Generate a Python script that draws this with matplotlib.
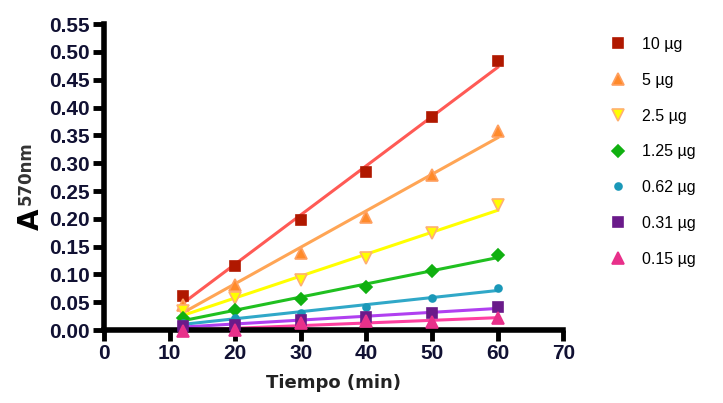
import numpy as np
import matplotlib
matplotlib.use("Agg")
import matplotlib.pyplot as plt

plt.rcParams["font.family"] = ["Liberation Sans", "DejaVu Sans"]

# time points (min)
tiempo = [12, 20, 30, 40, 50, 60]

labels = ["10 µg", "5 µg", "2.5 µg", "1.25 µg", "0.62 µg", "0.31 µg", "0.15 µg"]
a10 = [0.062, 0.115, 0.198, 0.284, 0.383, 0.484]
a5 = [0.045, 0.081, 0.138, 0.203, 0.279, 0.358]
a25 = [0.035, 0.057, 0.090, 0.129, 0.174, 0.224]
a125 = [0.021, 0.036, 0.056, 0.078, 0.106, 0.135]
a062 = [0.012, 0.022, 0.031, 0.042, 0.057, 0.075]
a031 = [0.008, 0.009, 0.018, 0.023, 0.031, 0.041]
a015 = [-0.002, 0.000, 0.013, 0.016, 0.015, 0.021]
series = [a10, a5, a25, a125, a062, a031, a015]

# (marker, marker face, marker edge, line colour, size)
styles = [
    ("s", "#b01800", "#b01800", "#ff5a55", 7),
    ("^", "#ff8a2a", "#ffa060", "#ffa555", 8),
    ("v", "#ffff00", "#ffb070", "#ffff00", 8),
    ("D", "#10b010", "#10b010", "#20c020", 6),
    ("o", "#1a98b8", "#1a98b8", "#30a8c8", 5),
    ("s", "#6a1a8a", "#6a1a8a", "#b040f0", 7),
    ("^", "#e8308a", "#e8308a", "#ff40a0", 8),
]

fig = plt.figure(figsize=(7.23, 4.03), dpi=100)
ax = fig.add_axes([0.144, 0.181, 0.635, 0.759])

x = np.array(tiempo)
for y, lab, (m, fc, ec, lc, ms) in zip(series, labels, styles):
    k, b = np.polyfit(x, y, 1)
    xf = np.array([x.min(), x.max()])
    ax.plot(xf, k * xf + b, color=lc, linewidth=2.2, zorder=2)
    ax.plot(x, y, linestyle="none", marker=m, markersize=ms,
            markerfacecolor=fc, markeredgecolor=ec, markeredgewidth=1.2,
            label=lab, zorder=3, clip_on=False)

ax.set_xlim(0, 70)
ax.set_ylim(0, 0.55)
ax.set_xticks(np.arange(0, 71, 10))
ax.set_yticks(np.arange(0, 0.551, 0.05))
ax.set_yticklabels([f"{v:.2f}" for v in np.arange(0, 0.551, 0.05)])

for s in ["top", "right"]:
    ax.spines[s].set_visible(False)
for s in ["left", "bottom"]:
    ax.spines[s].set_linewidth(4)
ax.tick_params(direction="out", length=8, width=3.5, labelsize=15, pad=2)
for t in ax.get_xticklabels() + ax.get_yticklabels():
    t.set_fontweight("bold")
    t.set_color("#111133")

ax.set_xlabel("Tiempo (min)", fontsize=13, fontweight="bold", labelpad=8,
              color="#222222", family="DejaVu Sans")

fig.text(0.042, 0.455, "A", rotation=90, fontsize=20, fontweight="bold",
         ha="center", va="center", family="DejaVu Sans")
fig.text(0.036, 0.57, "570nm", rotation=90, fontsize=12, fontweight="bold",
         ha="center", va="center", color="#333333", family="DejaVu Sans")

leg = ax.legend(loc="upper left", bbox_to_anchor=(1.07, 1.005), frameon=False,
                fontsize=11.5, labelspacing=1.3, handletextpad=1.0,
                handlelength=1.0)

fig.savefig("out.png", dpi=100)
